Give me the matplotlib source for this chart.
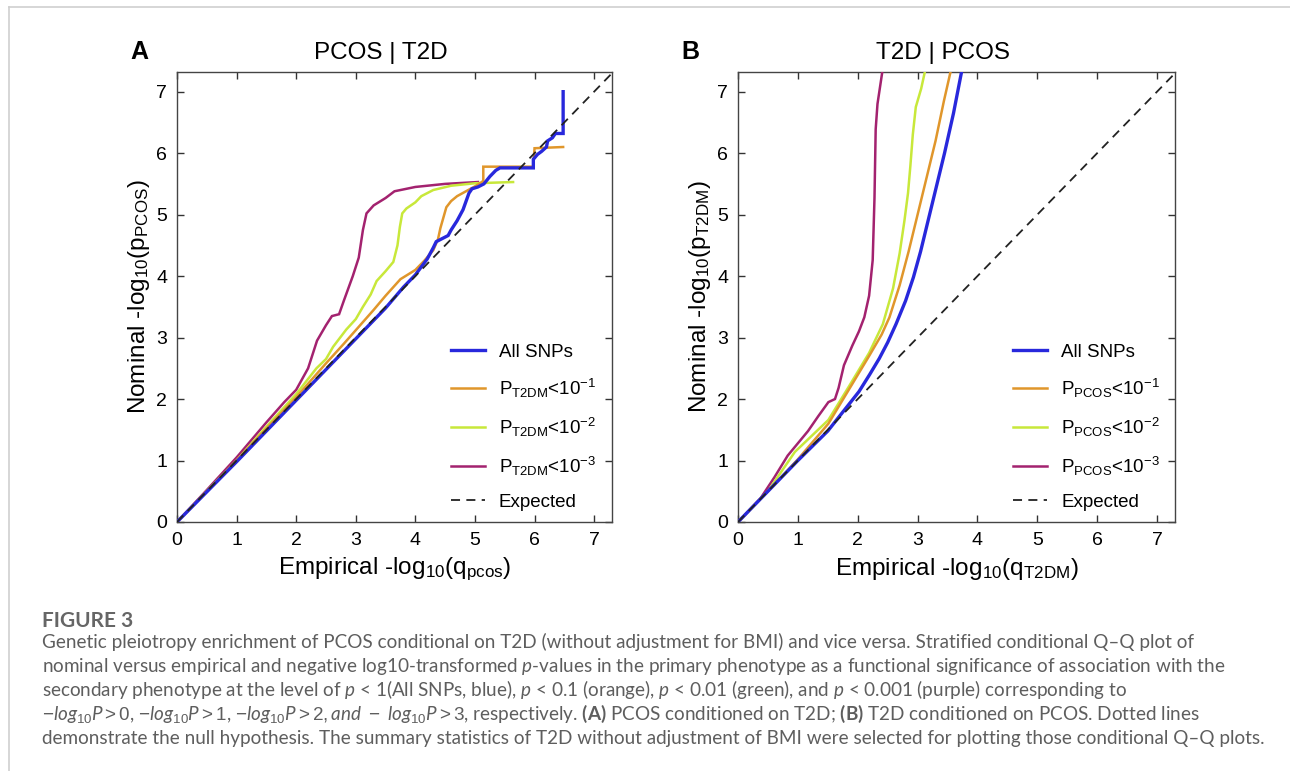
import matplotlib
matplotlib.use("Agg")
import matplotlib.pyplot as plt
from matplotlib.lines import Line2D

# fonts
plt.rcParams['font.family'] = ['Liberation Sans', 'DejaVu Sans']
plt.rcParams['mathtext.fontset'] = 'custom'
plt.rcParams['mathtext.rm'] = 'Liberation Sans'
plt.rcParams['mathtext.it'] = 'Lato:italic'
plt.rcParams['mathtext.bf'] = 'Lato:bold'

# %% data
# panel A: PCOS | T2D
a_all_x = [0, 1, 2, 3, 3.5, 3.8, 4.0, 4.2, 4.3, 4.35, 4.55, 4.6, 4.7, 4.8, 4.9, 4.95, 5.05,
           5.15, 5.25, 5.35, 5.42, 5.98, 5.98, 6.05, 6.12, 6.2, 6.22, 6.3, 6.35, 6.48, 6.48]
a_all_y = [0, 0.98, 1.98, 2.98, 3.48, 3.82, 4.02, 4.28, 4.46, 4.56, 4.66, 4.75, 4.9, 5.08, 5.35, 5.42, 5.45,
           5.5, 5.62, 5.72, 5.76, 5.76, 5.9, 5.98, 6.03, 6.1, 6.2, 6.25, 6.32, 6.32, 7.0]
a_p1_x = [0, 1, 1.5, 2, 2.5, 2.8, 3, 3.3, 3.5, 3.75, 4.0, 4.15, 4.3, 4.38, 4.42, 4.47, 4.52,
          4.6, 4.7, 4.85, 5.0, 5.1, 5.14, 5.14, 5.98, 6.0, 6.48]
a_p1_y = [0, 1.0, 1.52, 2.03, 2.58, 2.9, 3.12, 3.45, 3.68, 3.95, 4.1, 4.25, 4.42, 4.6, 4.78, 4.95, 5.12,
          5.22, 5.3, 5.38, 5.46, 5.52, 5.55, 5.78, 5.78, 6.08, 6.1]
a_p2_x = [0, 1, 1.5, 2, 2.34, 2.5, 2.62, 2.84, 3.0, 3.12, 3.25, 3.35, 3.5, 3.63, 3.7, 3.74,
          3.78, 3.85, 4.0, 4.1, 4.3, 4.6, 5.0, 5.64]
a_p2_y = [0, 1.0, 1.55, 2.08, 2.5, 2.65, 2.85, 3.13, 3.3, 3.5, 3.7, 3.92, 4.08, 4.23, 4.5, 4.8,
          5.02, 5.1, 5.2, 5.3, 5.4, 5.47, 5.51, 5.53]
a_p3_x = [0, 0.5, 1, 1.5, 1.8, 2.0, 2.2, 2.35, 2.5, 2.6, 2.72, 2.8, 2.95, 3.05, 3.12, 3.18,
          3.3, 3.5, 3.65, 4.0, 4.5, 5.05]
a_p3_y = [0, 0.52, 1.05, 1.62, 1.95, 2.15, 2.5, 2.95, 3.2, 3.35, 3.38, 3.6, 4.0, 4.3, 4.75, 5.02,
          5.15, 5.27, 5.38, 5.45, 5.5, 5.53]

# panel B: T2D | PCOS
b_all_x = [0, 0.5, 1, 1.5, 2.02, 2.2, 2.36, 2.5, 2.64, 2.8, 2.93, 3.05, 3.15, 3.3, 3.45, 3.6, 3.76]
b_all_y = [0, 0.5, 1.0, 1.48, 2.12, 2.4, 2.66, 2.92, 3.22, 3.6, 3.98, 4.4, 4.8, 5.4, 6.0, 6.65, 7.45]
b_p1_x = [0, 0.5, 1, 1.51, 1.85, 2.19, 2.4, 2.53, 2.7, 2.85, 3.0, 3.15, 3.3, 3.44, 3.58]
b_p1_y = [0, 0.5, 1.02, 1.6, 2.15, 2.7, 3.05, 3.33, 3.85, 4.4, 5.0, 5.6, 6.2, 6.85, 7.45]
b_p2_x = [0, 0.5, 0.95, 1.51, 1.85, 2.19, 2.42, 2.59, 2.7, 2.78, 2.84, 2.88, 2.92, 2.97, 3.06, 3.15]
b_p2_y = [0, 0.5, 1.14, 1.66, 2.2, 2.75, 3.22, 3.8, 4.37, 4.9, 5.35, 5.8, 6.3, 6.75, 7.05, 7.45]
b_p3_x = [0, 0.38, 0.61, 0.83, 1.17, 1.34, 1.51, 1.62, 1.68, 1.77, 1.91, 2.02, 2.11, 2.19,
          2.25, 2.28, 2.3, 2.33, 2.43]
b_p3_y = [0, 0.39, 0.73, 1.08, 1.48, 1.72, 1.95, 2.0, 2.18, 2.55, 2.87, 3.1, 3.33, 3.68,
          4.26, 5.27, 6.39, 6.8, 7.45]

expected = [0, 7.5]
ticks = [0, 1, 2, 3, 4, 5, 6, 7]

colors = ['#2828dc', '#e0962b', '#c8e83a', '#a3226f']
a_labels = ['All SNPs', r'P$_{\mathrm{T2DM}}$<10$^{-1}$', r'P$_{\mathrm{T2DM}}$<10$^{-2}$',
            r'P$_{\mathrm{T2DM}}$<10$^{-3}$', 'Expected']
b_labels = ['All SNPs', r'P$_{\mathrm{PCOS}}$<10$^{-1}$', r'P$_{\mathrm{PCOS}}$<10$^{-2}$',
            r'P$_{\mathrm{PCOS}}$<10$^{-3}$', 'Expected']

caption_head = "FIGURE 3"
caption_lines = [
    "Genetic pleiotropy enrichment of PCOS conditional on T2D (without adjustment for BMI) and vice versa. Stratified conditional Q\u2013Q plot of",
    r"nominal versus empirical and negative log10-transformed $p$-values in the primary phenotype as a functional significance of association with the",
    r"secondary phenotype at the level of $p$ < 1(All SNPs, blue), $p$ < 0.1 (orange), $p$ < 0.01 (green), and $p$ < 0.001 (purple) corresponding to",
    r"$-log_{10}P>0$, $-log_{10}P>1$, $-log_{10}P>2, and\ -\ log_{10}P>3$, respectively. $\mathbf{(A)}$ PCOS conditioned on T2D; $\mathbf{(B)}$ T2D conditioned on PCOS. Dotted lines",
    "demonstrate the null hypothesis. The summary statistics of T2D without adjustment of BMI were selected for plotting those conditional Q\u2013Q plots.",
]

W, H = 1290, 771
fig = plt.figure(figsize=(W / 100, H / 100), dpi=100)


def draw_panel(ax, xs, ys, labels, title, xlab, ylab):
    for i, (x, y) in enumerate(zip(xs, ys)):
        ax.plot(x, y, color=colors[i], lw=2.4 if i == 0 else 1.8, label=labels[i],
                solid_joinstyle='miter', zorder=3 - i * 0.1)
    ax.plot(expected, expected, color='#222222', lw=1.3, dashes=(5, 3.5),
            label=labels[4], zorder=4)
    ax.set_xlim(0, 7.3)
    ax.set_ylim(0, 7.32)
    ax.set_xticks(ticks)
    ax.set_yticks(ticks)
    ax.tick_params(direction='in', top=True, right=True, length=5, width=1,
                   color='#333333', labelsize=14, pad=7)
    for s in ax.spines.values():
        s.set_color('#444444')
        s.set_linewidth(1.0)
    ax.set_xlabel(xlab, fontsize=17.5, labelpad=5)
    ax.set_ylabel(ylab, fontsize=17.5, labelpad=3)
    ax.text(0.469, 1.043, title, transform=ax.transAxes, ha='center', va='center', fontsize=17.5)
    ax.legend(loc='lower left', bbox_to_anchor=(0.63, 0.025), frameon=False,
              fontsize=13.5, handlelength=1.8, handletextpad=0.75,
              labelspacing=0.85, borderpad=0, borderaxespad=0)


axA = fig.add_axes([177 / W, 1 - 522 / H, 435 / W, 450 / H])
draw_panel(axA, [a_all_x, a_p1_x, a_p2_x, a_p3_x], [a_all_y, a_p1_y, a_p2_y, a_p3_y],
           a_labels, 'PCOS | T2D',
           r'Empirical -log$_{\mathrm{10}}$(q$_{\mathrm{pcos}}$)',
           r'Nominal -log$_{\mathrm{10}}$(p$_{\mathrm{PCOS}}$)')
axB = fig.add_axes([738 / W, 1 - 522 / H, 437 / W, 450 / H])
draw_panel(axB, [b_all_x, b_p1_x, b_p2_x, b_p3_x], [b_all_y, b_p1_y, b_p2_y, b_p3_y],
           b_labels, 'T2D | PCOS',
           r'Empirical -log$_{\mathrm{10}}$(q$_{\mathrm{T2DM}}$)',
           r'Nominal -log$_{\mathrm{10}}$(p$_{\mathrm{T2DM}}$)')

# panel letters
fig.text(139 / W, 1 - 52 / H, 'A', fontsize=18, fontweight='bold', ha='center', va='center')
fig.text(690 / W, 1 - 52 / H, 'B', fontsize=18, fontweight='bold', ha='center', va='center')

# page borders
fig.add_artist(Line2D([9 / W, 1], [1 - 7 / H, 1 - 7 / H], color='#cfcfcf', lw=1.2))
fig.add_artist(Line2D([9 / W, 9 / W], [0, 1 - 7 / H], color='#cfcfcf', lw=1.2))

# caption
fig.text(42 / W, 1 - 627 / H, caption_head, family='Lato', fontweight='bold',
         fontsize=15, color='#666666', va='baseline')
for i, line in enumerate(caption_lines):
    fig.text(42 / W, 1 - (648 + 24 * i) / H, line, family='Lato', fontsize=13.6,
             color='#5e5e5e', va='baseline')

fig.savefig('out.png', dpi=100)
